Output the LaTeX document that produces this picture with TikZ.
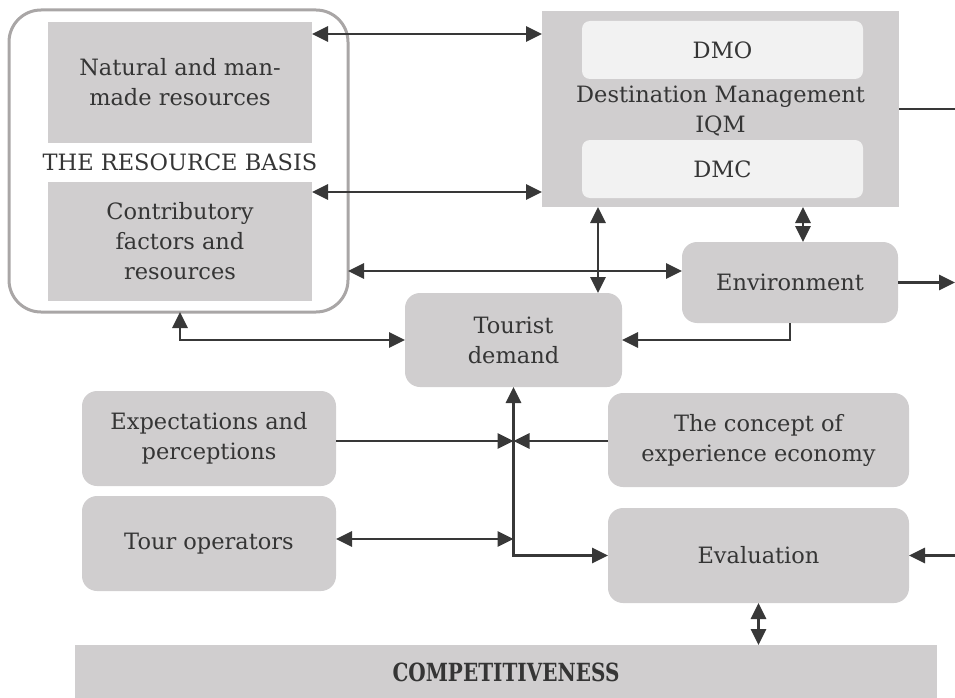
\documentclass[tikz,border=0pt]{standalone}
\usepackage{fontspec}
\setmainfont{DejaVu Serif}
\newfontfamily\compfont[FakeStretch=0.8]{DejaVu Serif}
\usetikzlibrary{arrows.meta,calc}
\definecolor{boxgray}{HTML}{D0CECF}
\definecolor{innergray}{HTML}{F2F2F2}
\definecolor{rimgray}{HTML}{A9A6A6}
\definecolor{linegray}{HTML}{383838}
\definecolor{txtgray}{HTML}{353535}
\tikzset{
  every node/.style={inner sep=0pt, outer sep=0pt},
  txt/.style={text=txtgray, font=\fontsize{22.5}{30}\selectfont, align=center},
  sqbox/.style={txt, fill=boxgray, rectangle},
  rbox/.style={txt, fill=boxgray, rounded corners=15pt},
  ibox/.style={txt, fill=innergray, rounded corners=8pt},
  conn/.style={draw=linegray, line width=2.9pt},
  tipend/.style={conn, -{Triangle[length=16pt,width=15pt]}},
  tipboth/.style={conn, {Triangle[length=16pt,width=15pt]}-{Triangle[length=16pt,width=15pt]}},
}
\begin{document}
\begin{tikzpicture}[x=1pt,y=-1pt]
\useasboundingbox (0,0) rectangle (955,698);

% resource basis frame
\node[draw=rimgray, line width=3pt, rounded corners=32pt, minimum width=339pt, minimum height=302pt] (basis) at (178.5,161) {};
\node[sqbox, minimum width=264pt, minimum height=121pt] (natural) at (180,82.5) {Natural and man-\\made resources};
\node[txt] (basislabel) at (180,162) {THE RESOURCE BASIS};
\node[sqbox, minimum width=264pt, minimum height=119pt] (contrib) at (180,241.5) {Contributory\\factors and\\resources};

% destination management
\node[sqbox, minimum width=357pt, minimum height=196pt] (dm) at (720.5,109) {};
\node[ibox, minimum width=281pt, minimum height=58pt] (dmo) at (722.5,50) {DMO};
\node[txt] (dmlabel) at (720.5,111) {Destination Management\\IQM};
\node[ibox, minimum width=281pt, minimum height=58pt] (dmc) at (722.5,169) {DMC};

% other boxes
\node[rbox, minimum width=216pt, minimum height=81pt] (env) at (790,282.5) {Environment};
\node[rbox, minimum width=217pt, minimum height=94pt] (tourist) at (513.5,340) {Tourist\\demand};
\node[rbox, minimum width=254pt, minimum height=95pt] (expect) at (209,438.5) {Expectations and\\perceptions};
\node[rbox, minimum width=254pt, minimum height=95pt] (tour) at (209,543.5) {Tour operators};
\node[rbox, minimum width=301pt, minimum height=94pt] (concept) at (758.5,440) {The concept of\\experience economy};
\node[rbox, minimum width=301pt, minimum height=95pt] (eval) at (758.5,555.5) {Evaluation};
\node[fill=boxgray, minimum width=862pt, minimum height=54pt, text=txtgray, font=\compfont\bfseries\fontsize{25}{28}\selectfont] (comp) at (506,672) {COMPETITIVENESS};

% helper coordinates
\coordinate (ya) at (0,34);
\coordinate (yb) at (0,192);
\coordinate (yc) at (0,271);
\coordinate (xd) at (598,0);
\coordinate (xe) at (803,0);
\coordinate (xf) at (180,0);
\coordinate (ye) at (0,441);
\coordinate (yt) at (0,539);
\coordinate (rdm) at (955,109);
\coordinate (renv) at (955,283);
\coordinate (reval) at (955,556);

% connectors
\draw[tipboth] (natural.east |- ya) -- (dm.west |- ya);
\draw[tipboth] (contrib.east |- yb) -- (dm.west |- yb);
\draw[tipboth] (basis.east |- yc) -- (env.west |- yc);
\draw[tipboth] (dm.south -| xd) -- (tourist.north -| xd);
\draw[tipboth] (dm.south -| xe) -- (env.north -| xe);
\draw[conn] (dm.east |- rdm) -- (rdm);
\draw[tipend] (env.east) -- (env.east -| renv);
\draw[tipboth] (basis.south -| xf) |- (tourist.west);
\draw[tipend] (env.south) |- (tourist.east);
\draw[tipboth] (eval.west) -| (tourist.south);
\draw[tipend] (expect.east |- ye) -- (tourist.south |- ye);
\draw[tipend] (concept.west |- ye) -- (tourist.south |- ye);
\draw[tipboth] (tour.east |- yt) -- (tourist.south |- yt);
\draw[tipend] (reval |- eval.east) -- (eval.east);
\draw[tipboth] (eval.south) -- (eval.south |- comp.north);
\end{tikzpicture}
\end{document}
